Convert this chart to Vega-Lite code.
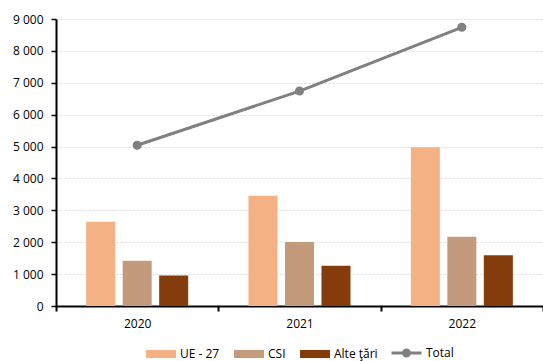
{
  "$schema": "https://vega.github.io/schema/vega-lite/v6.json",
  "autosize": "none",
  "width": 487,
  "height": 287,
  "padding": {"left": 56, "top": 19, "right": 0, "bottom": 55},
  "background": "white",
  "config": {
    "font": "Open Sans",
    "view": {"stroke": null},
    "axis": {"labelFont": "Open Sans", "labelFontSize": 12, "labelColor": "#000000", "titleFontSize": 12},
    "legend": {"layout": {"bottom": {"anchor": "middle", "direction": "horizontal", "margin": 12}}}
  },
  "datasets": {
    "bars": [
      {"year": "2020", "series": "UE - 27", "value": 2640},
      {"year": "2020", "series": "CSI", "value": 1420},
      {"year": "2020", "series": "Alte ţări", "value": 960},
      {"year": "2021", "series": "UE - 27", "value": 3460},
      {"year": "2021", "series": "CSI", "value": 2010},
      {"year": "2021", "series": "Alte ţări", "value": 1260},
      {"year": "2022", "series": "UE - 27", "value": 4980},
      {"year": "2022", "series": "CSI", "value": 2170},
      {"year": "2022", "series": "Alte ţări", "value": 1590}
    ],
    "totals": [
      {"year": "2020", "series": "Total", "value": 5040},
      {"year": "2021", "series": "Total", "value": 6740},
      {"year": "2022", "series": "Total", "value": 8740}
    ]
  },
  "encoding": {
    "x": {
      "field": "year", "type": "nominal",
      "scale": {"paddingInner": 0, "paddingOuter": 0},
      "axis": {"title": null, "labelAngle": 0, "domainColor": "#000000", "domainWidth": 2, "tickColor": "#000000", "tickWidth": 2, "tickSize": 5, "tickBand": "extent", "labelPadding": 7, "grid": false}
    },
    "y": {
      "field": "value", "type": "quantitative",
      "scale": {"domain": [0, 9000], "nice": false},
      "axis": {"title": null, "values": [0,1000,2000,3000,4000,5000,6000,7000,8000,9000], "labelOverlap": false, "labelExpr": "replace(format(datum.value, ','), ',', ' ')", "domainColor": "#000000", "domainWidth": 2, "tickColor": "#000000", "tickWidth": 1.5, "tickSize": 5, "labelPadding": 8, "gridColor": "#d9d9d9", "gridDash": [2, 2], "gridWidth": 1}
    }
  },
  "layer": [
    {
      "data": {"name": "bars"},
      "mark": {"type": "bar"},
      "encoding": {
        "xOffset": {"field": "series", "type": "nominal", "sort": ["UE - 27", "CSI", "Alte ţări"], "scale": {"paddingInner": 0.205, "paddingOuter": 0.826}},
        "color": {
          "field": "series", "type": "nominal",
          "sort": ["UE - 27", "CSI", "Alte ţări"],
          "scale": {"domain": ["UE - 27", "CSI", "Alte ţări"], "range": ["#F4B183", "#c49a7c", "#843C0C"]},
          "legend": {"title": null, "orient": "bottom", "direction": "horizontal", "symbolType": "M-1,-0.27H1V0.27H-1Z", "symbolSize": 900, "symbolStrokeWidth": 0, "labelFontSize": 12, "labelFont": "Open Sans", "labelColor": "#000000", "columnPadding": 14, "labelOffset": 4, "offset": 10}
        }
      }
    },
    {
      "data": {"name": "totals"},
      "mark": {"type": "line", "strokeWidth": 3, "point": {"size": 50, "filled": true}},
      "encoding": {
        "stroke": {
          "field": "series", "type": "nominal",
          "scale": {"domain": ["Total"], "range": ["#808080"]},
          "legend": {"title": null, "orient": "bottom", "symbolType": "M-1,-0.167H1M-0.2,-0.167A0.2,0.2 0 1,0 0.2,-0.167A0.2,0.2 0 1,0 -0.2,-0.167", "symbolSize": 900, "symbolStrokeWidth": 3, "symbolStrokeColor": "#808080", "symbolFillColor": "#808080", "labelFontSize": 12, "labelFont": "Open Sans", "labelColor": "#000000", "labelOffset": 3, "offset": 10,
            "encode": {"labels": {"update": {"dy": {"value": -2.5}}}}}
        },
        "color": {"value": "#808080"}
      }
    }
  ]
}
